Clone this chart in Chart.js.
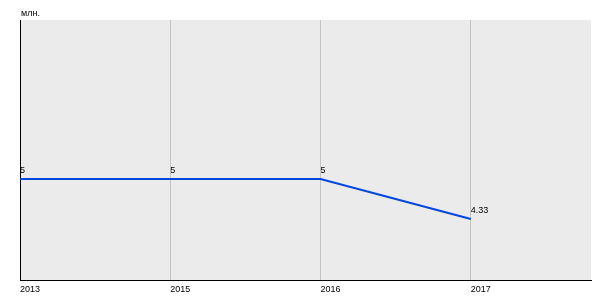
<!DOCTYPE html>
<html>
<head>
<meta charset="utf-8">
<script src="https://cdn.jsdelivr.net/npm/chart.js@4"></script>
<style>
  html, body { margin: 0; padding: 0; background: #fff; }
  #wrap { width: 600px; height: 300px; }
</style>
</head>
<body>
<div id="wrap"><canvas id="chart" width="600" height="300"></canvas></div>
<script>
const years = ['2013', '2015', '2016', '2017'];
const values = [5, 5, 5, 4.33];
const valueLabels = ['5', '5', '5', '4.33'];
const unitLabel = 'млн.';
const yMin = 3.31;
const yMax = 7.66;
const xMax = 3.8; // empty room after the last year

const font = 'Liberation Sans, Arial, sans-serif';

// grey plot background
const plotBg = {
    id: 'plotBg',
    beforeDraw(chart) {
        const { ctx, chartArea: a } = chart;
        ctx.save();
        ctx.fillStyle = '#ebebeb';
        ctx.fillRect(a.left, a.top, a.right - a.left, a.bottom - a.top);
        ctx.restore();
    }
};

// unit text and value labels
const labels = {
    id: 'labels',
    afterDatasetsDraw(chart) {
        const { ctx, chartArea: a } = chart;
        ctx.save();
        ctx.font = '9px ' + font;
        ctx.fillStyle = '#000';
        ctx.textAlign = 'left';
        ctx.textBaseline = 'alphabetic';
        ctx.fillText(unitLabel, a.left + 1, a.top - 4);
        chart.getDatasetMeta(0).data.forEach((pt, i) => {
            ctx.fillText(valueLabels[i], pt.x, pt.y - 6);
        });
        ctx.restore();
    }
};

new Chart(document.getElementById('chart'), {
    type: 'line',
    data: {
        datasets: [{
            data: years.map((y, i) => ({ x: i, y: values[i] })),
            borderColor: '#0047e0',
            borderWidth: 2,
            pointRadius: 0,
            tension: 0,
            fill: false
        }]
    },
    options: {
        responsive: false,
        animation: false,
        layout: { padding: { left: 20, top: 20, right: 9, bottom: 0 } },
        plugins: {
            legend: { display: false },
            tooltip: { enabled: false }
        },
        scales: {
            x: {
                type: 'linear',
                min: 0,
                max: xMax,
                afterBuildTicks(scale) {
                    scale.ticks = years.map((y, i) => ({ value: i }));
                },
                afterFit(scale) { scale.height = 20; },
                grid: { color: '#c4c4c4', lineWidth: 1, drawTicks: false },
                border: { display: true, color: '#000', width: 1 },
                ticks: {
                    align: 'start',
                    padding: 4,
                    maxRotation: 0,
                    color: '#000',
                    font: { family: font, size: 9 },
                    callback: (v) => years[v]
                }
            },
            y: {
                min: yMin,
                max: yMax,
                afterFit(scale) { scale.width = 0; },
                grid: { display: false, drawTicks: false },
                border: { display: true, color: '#000', width: 1 },
                ticks: { display: false }
            }
        }
    },
    plugins: [plotBg, labels]
});
</script>
</body>
</html>
